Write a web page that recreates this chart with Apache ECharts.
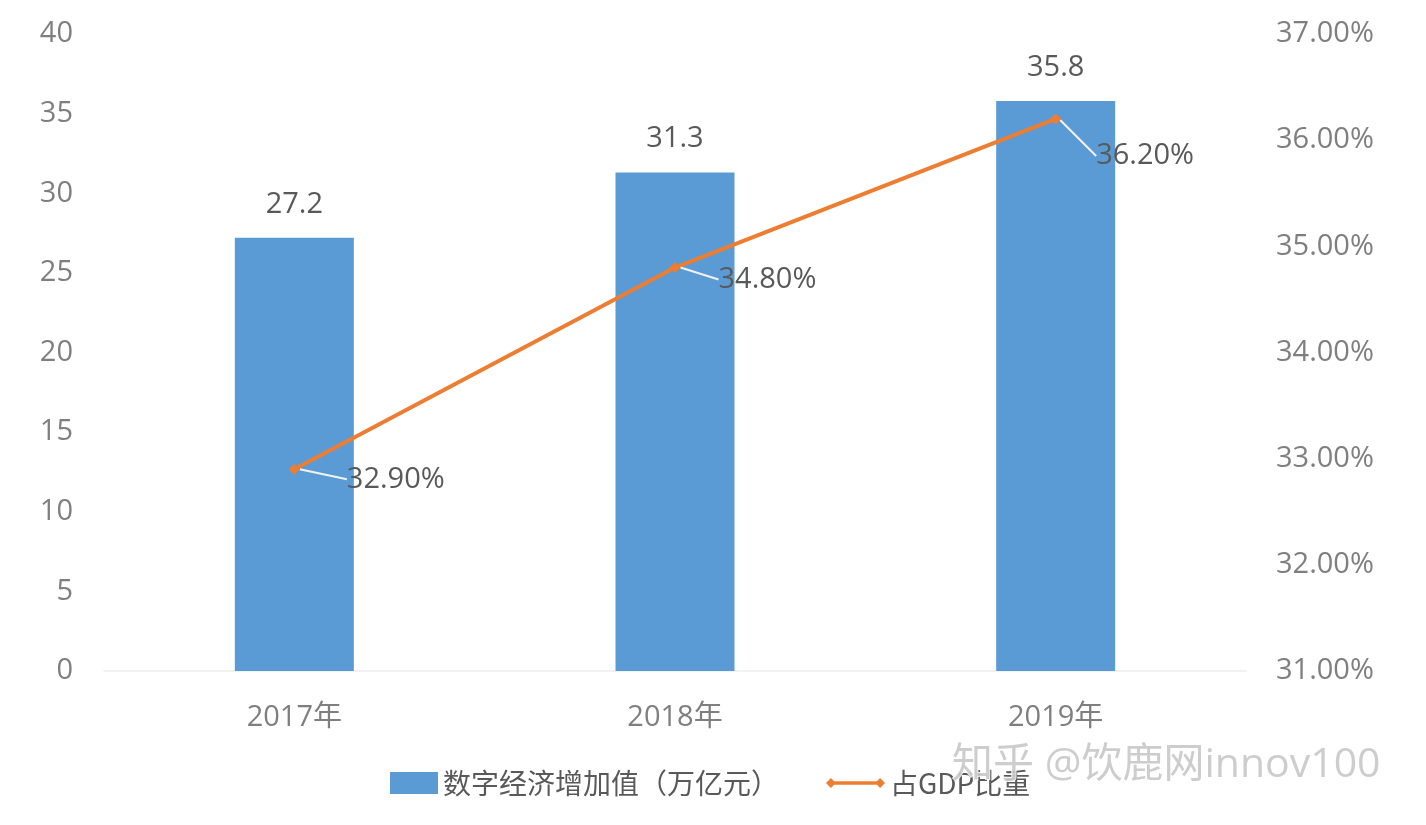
<!DOCTYPE html>
<html><head><meta charset="utf-8">
<script src="https://cdn.jsdelivr.net/npm/echarts@6/dist/echarts.min.js"></script>
<style>html,body{margin:0;padding:0;background:#fff}#c{width:1426px;height:825px}</style>
</head><body><div id="c"></div>
<script>
const categories = ['2017年','2018年','2019年'];
const valueAdded = [27.2, 31.3, 35.8];
const gdpShare = [32.9, 34.8, 36.2];
const leftTicks = [0,5,10,15,20,25,30,35,40];
const rightTicks = [31,32,33,34,35,36,37];
const seriesNames = ['数字经济增加值（万亿元）','占GDP比重'];

const FONT = '"Open Sans","Noto Sans CJK SC",sans-serif';
const CJK = '"Noto Sans CJK SC",sans-serif';
const chart = echarts.init(document.getElementById('c'));
const labelOffsets = [[42,10],[33,12],[30,37]];
const legendText = {fontSize:28,color:'#595959',fontFamily:CJK};
chart.setOption({
  animation:false,
  textStyle:{fontFamily:FONT},
  grid:{left:104,right:180,top:34,bottom:154},
  legend:[
    {top:769,left:390,padding:0,itemWidth:48,itemHeight:22,itemGap:0,textStyle:legendText,
     data:[{name:seriesNames[0],icon:'rect'}]},
    {top:769,left:826,padding:0,itemWidth:59,itemHeight:16,itemGap:0,textStyle:legendText,
     data:[{name:seriesNames[1],icon:'path://M0,7L5,2L10,7L5,12ZM50,7L55,2L60,7L55,12ZM5,5.3L55,5.3L55,8.7L5,8.7Z',itemStyle:{color:'#ED7D31'}}]}
  ],
  xAxis:{type:'category',data:categories,
    axisLine:{lineStyle:{color:'#eeeeee',width:1.5}},axisTick:{show:false},
    axisLabel:{fontSize:29,color:'#7f7f7f',margin:32}},
  yAxis:[
    {type:'value',min:leftTicks[0],max:leftTicks[leftTicks.length-1],interval:5,
     splitLine:{show:false},axisLine:{show:false},axisTick:{show:false},
     axisLabel:{fontSize:29,color:'#7f7f7f',margin:31}},
    {type:'value',min:rightTicks[0],max:rightTicks[rightTicks.length-1],interval:1,
     splitLine:{show:false},axisLine:{show:false},axisTick:{show:false},
     axisLabel:{fontSize:29,color:'#7f7f7f',margin:30,formatter:v=>v.toFixed(2)+'%'}}
  ],
  series:[
    {name:seriesNames[0],type:'bar',data:valueAdded,barWidth:119,
     itemStyle:{color:'#5B9BD5'},
     label:{show:true,position:'top',distance:19,fontSize:29,color:'#595959',formatter:p=>p.value.toFixed(1)}},
    {name:seriesNames[1],type:'line',yAxisIndex:1,data:gdpShare,
     symbol:'diamond',symbolSize:11,
     lineStyle:{color:'#ED7D31',width:4},itemStyle:{color:'#ED7D31'},
     label:{show:true,position:'right',distance:5,fontSize:29,color:'#595959',
       formatter:p=>p.value.toFixed(2)+'%'},
     labelLine:{show:true,lineStyle:{color:'#f2f2f2',width:2}},
     labelLayout:function(p){const o=labelOffsets[p.dataIndex];return {dx:o[0],dy:o[1]};}}
  ],
  graphic:[{type:'text',left:951,top:744,silent:true,z:100,
    style:{text:'知乎 @饮鹿网innov100',fontSize:41,fontFamily:FONT,fill:'#c4c4c4',stroke:'#ffffff',lineWidth:2,opacity:0.85}}]
});
</script></body></html>
